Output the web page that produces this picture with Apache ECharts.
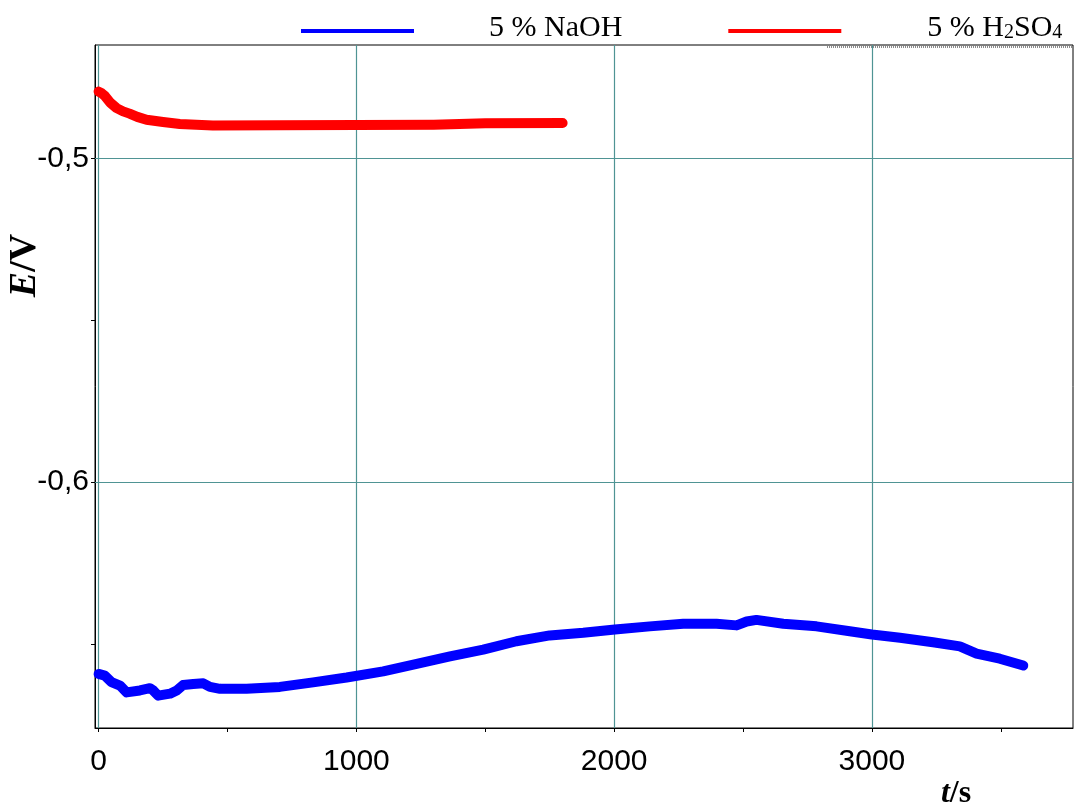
<!DOCTYPE html>
<html>
<head>
<meta charset="utf-8">
<title>E vs t</title>
<script src="https://cdn.jsdelivr.net/npm/echarts@6/dist/echarts.min.js"></script>
<style>
  html, body { margin: 0; padding: 0; background: #fff; }
  #chart { width: 1074px; height: 810px; }
</style>
</head>
<body>
<div id="chart"></div>
<script>
// Open-circuit potential E (V) against time t (s)
const seriesNames = ['5 % NaOH', '5 % H2SO4'];

const tNaOH = [0, 24, 50, 83, 109, 160, 199, 212, 231, 277, 303, 328, 367, 406, 432, 471, 574, 703, 832, 962,
  1104, 1234, 1363, 1492, 1621, 1750, 1880, 2003, 2138, 2268, 2397, 2475, 2514, 2552, 2656, 2785, 2914, 3000,
  3109, 3237, 3341, 3406, 3496, 3587];
const eNaOH = [-0.6593, -0.6598, -0.6618, -0.6629, -0.6650, -0.6644, -0.6637, -0.6644, -0.6660, -0.6654, -0.6644,
  -0.6627, -0.6624, -0.6622, -0.6633, -0.6639, -0.6639, -0.6633, -0.6619, -0.6604, -0.6585, -0.6562, -0.6539,
  -0.6518, -0.6492, -0.6474, -0.6466, -0.6456, -0.6446, -0.6438, -0.6438, -0.6443, -0.6431, -0.6426, -0.6438,
  -0.6446, -0.6461, -0.6471, -0.6481, -0.6495, -0.6508, -0.6530, -0.6546, -0.6567];

const tH2SO4 = [0, 12, 24, 45, 70, 95, 120, 150, 186, 250, 315, 443, 700, 1000, 1300, 1500, 1800];
const eH2SO4 = [-0.4794, -0.4799, -0.4807, -0.4828, -0.4845, -0.4855, -0.4862, -0.4872, -0.4881, -0.4888,
  -0.4894, -0.4899, -0.4898, -0.4897, -0.4896, -0.4892, -0.4891];

// Axis ticks, labels and grid lines
const xTicks = [0, 500, 1000, 1500, 2000, 2500, 3000, 3500];
const xLabels = [0, 1000, 2000, 3000];
const yTicks = [-0.65, -0.6, -0.55, -0.5];
const yLabels = [-0.6, -0.5];

const pairs = (xs, ys) => xs.map((x, i) => [x, ys[i]]);
const gridColor = '#4f9494';
const sans = '"Liberation Sans", Arial, sans-serif';
const serif = '"Liberation Serif", "Times New Roman", serif';

const chart = echarts.init(document.getElementById('chart'), null, { renderer: 'canvas' });

const option = {
  animation: false,
  backgroundColor: '#fff',
  grid: {
    left: 95, right: 1, top: 45, bottom: 82,
    outerBoundsMode: 'none',
    containLabel: false,
    show: true, borderColor: '#000', borderWidth: 1, backgroundColor: 'transparent'
  },
  legend: {
    left: 296, top: 8,
    itemWidth: 113, itemHeight: 4, itemGap: 106,
    icon: 'rect',
    data: seriesNames,
    textStyle: {
      fontFamily: serif, fontSize: 30, color: '#000', padding: [0, 0, 6, 0],
      rich: {
        g1: { width: 70 },
        g2: { width: 81 },
        sub: { fontFamily: serif, fontSize: 20, color: '#000', verticalAlign: 'bottom' }
      }
    },
    formatter: name => name === '5 % H2SO4'
      ? '{g2|}5 % H{sub|2}SO{sub|4}'
      : '{g1|}' + name
  },
  xAxis: {
    type: 'value',
    min: -14, max: 3780,
    name: '{e|t}{v|/s}',
    nameLocation: 'end',
    nameGap: -117,
    nameMoveOverlap: false,
    nameTextStyle: {
      align: 'center', verticalAlign: 'top', padding: [50, 0, 0, 0],
      rich: {
        e: { fontFamily: serif, fontSize: 32, fontWeight: 'bold', fontStyle: 'italic', color: '#000' },
        v: { fontFamily: serif, fontSize: 32, fontWeight: 'bold', color: '#000' }
      }
    },
    axisLine: { show: true, onZero: false, lineStyle: { color: '#000', width: 1 } },
    axisTick: { show: true, length: 4, customValues: xTicks, lineStyle: { color: '#000' } },
    axisLabel: {
      customValues: xLabels, margin: 19,
      fontFamily: sans, fontSize: 30, color: '#000',
      formatter: v => String(v)
    },
    splitLine: { show: false }
  },
  yAxis: {
    type: 'value',
    min: -0.676, max: -0.465,
    name: '{e|E}{v|/V}',
    nameLocation: 'middle',
    nameRotate: 90,
    nameGap: 51,
    nameMoveOverlap: false,
    nameTextStyle: {
      padding: [0, 0, 0, 242],
      rich: {
        e: { fontFamily: serif, fontSize: 38, fontWeight: 'bold', fontStyle: 'italic', color: '#000' },
        v: { fontFamily: serif, fontSize: 38, fontWeight: 'bold', color: '#000' }
      }
    },
    axisLine: { show: true, onZero: false, lineStyle: { color: '#000', width: 1 } },
    axisTick: { show: true, length: 4, customValues: yTicks, lineStyle: { color: '#000' } },
    axisLabel: {
      customValues: yLabels, margin: 6,
      fontFamily: sans, fontSize: 30, color: '#000',
      formatter: v => v.toFixed(1).replace('.', ',')
    },
    splitLine: { show: false }
  },
  graphic: [{
    type: 'line',
    shape: { x1: 827, y1: 47, x2: 1072, y2: 47 },
    style: { stroke: '#8a8a8a', lineWidth: 2, lineDash: [1, 1] },
    silent: true
  }],
  series: [
    {
      name: seriesNames[0],
      type: 'line',
      data: pairs(tNaOH, eNaOH),
      showSymbol: false,
      color: '#0000ff',
      lineStyle: { color: '#0000ff', width: 10, cap: 'round', join: 'round' },
      z: 3,
      markLine: {
        silent: true,
        z: 1,
        symbol: ['none', 'none'],
        label: { show: false },
        lineStyle: { color: gridColor, width: 1.2, type: 'solid' },
        emphasis: { disabled: true },
        data: xLabels.map(v => ({ xAxis: v })).concat(yLabels.map(v => ({ yAxis: v })))
      }
    },
    {
      name: seriesNames[1],
      type: 'line',
      data: pairs(tH2SO4, eH2SO4),
      showSymbol: false,
      color: '#ff0000',
      lineStyle: { color: '#ff0000', width: 10, cap: 'round', join: 'round' },
      z: 3
    }
  ]
};

chart.setOption(option);
</script>
</body>
</html>
